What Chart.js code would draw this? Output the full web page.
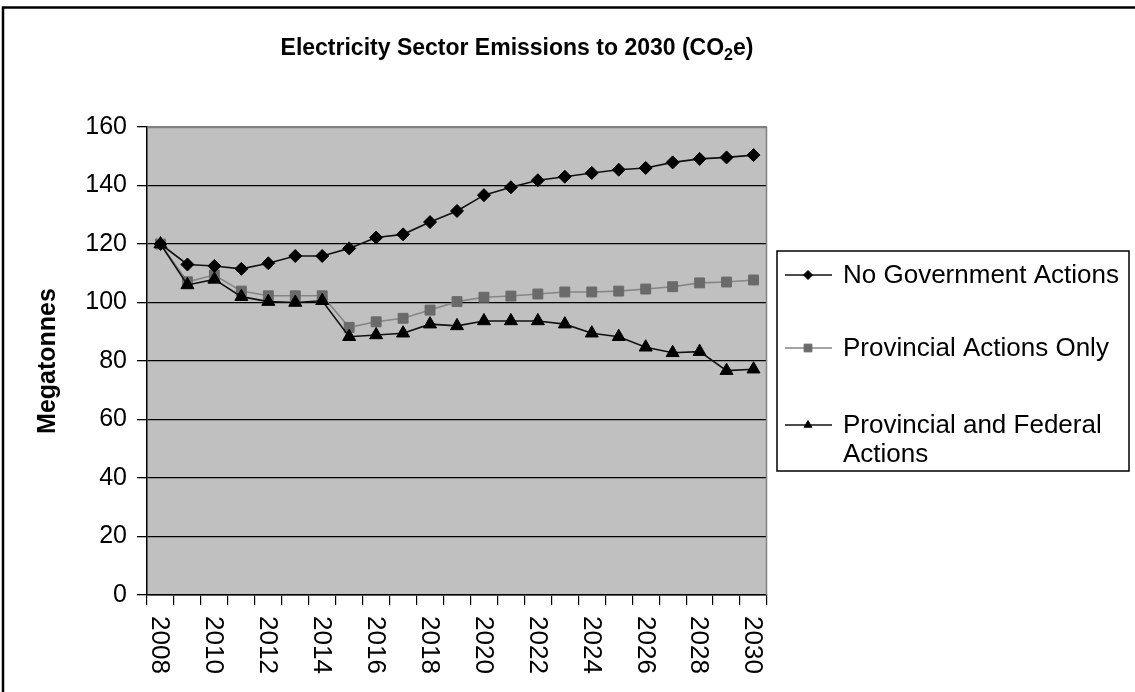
<!DOCTYPE html>
<html>
<head>
<meta charset="utf-8">
<script src="https://cdn.jsdelivr.net/npm/chart.js@4.4.1/dist/chart.umd.min.js"></script>
<style>
html,body{margin:0;padding:0;background:#fff;}
#wrap{width:1135px;height:692px;position:relative;overflow:hidden;}
canvas{display:block;}
</style>
</head>
<body>
<div id="wrap"><canvas id="c" width="1135" height="692"></canvas></div>
<script>
const years = ['2008','2009','2010','2011','2012','2013','2014','2015','2016','2017','2018','2019','2020','2021','2022','2023','2024','2025','2026','2027','2028','2029','2030'];
const xTickLabels = ['2008','2010','2012','2014','2016','2018','2020','2022','2024','2026','2028','2030'];
const noGov = [120, 113, 112.5, 111.5, 113.4, 115.9, 115.9, 118.5, 122.2, 123.3, 127.5, 131.3, 136.7, 139.4, 141.8, 143.0, 144.3, 145.4, 146.0, 147.9, 149.1, 149.6, 150.4];
const provOnly = [120, 107.1, 109.4, 103.9, 102.3, 102.3, 102.3, 91.5, 93.4, 94.6, 97.4, 100.3, 101.8, 102.2, 102.9, 103.6, 103.6, 103.9, 104.6, 105.4, 106.7, 107.0, 107.7];
const provFed = [120, 106.0, 107.9, 102.0, 100.3, 100.0, 100.6, 88.3, 88.9, 89.5, 92.6, 92.0, 93.7, 93.7, 93.7, 92.6, 89.5, 88.3, 84.7, 82.8, 83.2, 76.7, 77.2];
const seriesNames = ['No Government Actions', 'Provincial Actions Only', 'Provincial and Federal Actions'];
const titleMain = 'Electricity Sector Emissions to 2030 (CO';
const titleSub = '2';
const titleEnd = 'e)';
const yTitle = 'Megatonnes';

const FONT = '"Liberation Sans", Arial, Helvetica, sans-serif';

function drawMarker(ctx, style, x, y, r, fill, stroke) {
  if (Chart.helpers && Chart.helpers.drawPoint) {
    ctx.fillStyle = fill; ctx.strokeStyle = stroke; ctx.lineWidth = 1;
    Chart.helpers.drawPoint(ctx, {pointStyle: style, rotation: 0, radius: r, borderWidth: 1}, x, y);
  }
}

const decor = {
  id: 'decor',
  beforeDraw(chart) {
    const {ctx, chartArea: a} = chart;
    ctx.save();
    ctx.fillStyle = '#ffffff';
    ctx.fillRect(0, 0, chart.width, chart.height);
    ctx.fillStyle = '#c0c0c0';
    ctx.fillRect(a.left, a.top, a.right - a.left, a.bottom - a.top);
    ctx.strokeStyle = '#000';
    ctx.lineWidth = 2.5;
    ctx.beginPath();
    ctx.moveTo(3, chart.height);
    ctx.lineTo(3, 7.5);
    ctx.lineTo(chart.width, 7.5);
    ctx.stroke();
    ctx.restore();
  },
  beforeDatasetsDraw(chart) {
    const {ctx, chartArea: a} = chart;
    ctx.save();
    ctx.strokeStyle = '#808080';
    ctx.lineWidth = 1.5;
    ctx.beginPath();
    ctx.moveTo(a.left, a.top + 0.5);
    ctx.lineTo(a.right - 0.5, a.top + 0.5);
    ctx.lineTo(a.right - 0.5, a.bottom);
    ctx.stroke();
    ctx.restore();
  },
  afterDraw(chart) {
    const {ctx} = chart;
    const xs = chart.scales.x;
    ctx.save();
    const fMain = 'bold 23px ' + FONT;
    const fSub = 'bold 16px ' + FONT;
    ctx.font = fMain;
    const w1 = ctx.measureText(titleMain).width;
    const w3 = ctx.measureText(titleEnd).width;
    ctx.font = fSub;
    const w2 = ctx.measureText(titleSub).width;
    const total = w1 + w2 + w3;
    let tx = 517 - total / 2;
    const ty = 55;
    ctx.fillStyle = '#000';
    ctx.textBaseline = 'alphabetic';
    ctx.textAlign = 'left';
    ctx.font = fMain; ctx.fillText(titleMain, tx, ty); tx += w1;
    ctx.font = fSub; ctx.fillText(titleSub, tx, ty + 5); tx += w2;
    ctx.font = fMain; ctx.fillText(titleEnd, tx, ty);

    ctx.font = '26px ' + FONT;
    ctx.textAlign = 'left';
    ctx.textBaseline = 'middle';
    xTickLabels.forEach(lbl => {
      const idx = years.indexOf(lbl);
      const px = xs.getPixelForValue(idx);
      ctx.save();
      ctx.translate(px - 1, 616);
      ctx.rotate(Math.PI / 2);
      ctx.fillText(lbl, 0, 0);
      ctx.restore();
    });

    const box = {l: 777, t: 251, r: 1129, b: 471};
    ctx.fillStyle = '#fff';
    ctx.fillRect(box.l, box.t, box.r - box.l, box.b - box.t);
    ctx.strokeStyle = '#000';
    ctx.lineWidth = 1.5;
    ctx.strokeRect(box.l, box.t, box.r - box.l, box.b - box.t);
    ctx.font = '26px ' + FONT;
    const rows = [[275], [348], [425, 454]];
    const maxW = 282;
    chart.data.datasets.forEach((ds, i) => {
      const words = ds.label.split(' ');
      const lines = [];
      let cur = '';
      words.forEach(w => {
        const test = cur ? cur + ' ' + w : w;
        if (ctx.measureText(test).width > maxW && cur) { lines.push(cur); cur = w; } else { cur = test; }
      });
      if (cur) lines.push(cur);
      const y0 = rows[i][0];
      ctx.strokeStyle = ds.borderColor;
      ctx.lineWidth = 1.5;
      ctx.beginPath();
      ctx.moveTo(785, y0);
      ctx.lineTo(832, y0);
      ctx.stroke();
      drawMarker(ctx, ds.pointStyle, 808, y0, ds.pointStyle === 'rect' ? 5.5 : 4.5, ds.pointBackgroundColor, ds.pointBorderColor);
      ctx.fillStyle = '#000';
      ctx.textAlign = 'left';
      ctx.textBaseline = 'middle';
      lines.forEach((ln, k) => {
        const ly = rows[i][k] !== undefined ? rows[i][k] : y0 + k * 29;
        ctx.fillText(ln, 843, ly + 1);
      });
    });
    ctx.restore();
  }
};

new Chart(document.getElementById('c'), {
  type: 'line',
  data: {
    labels: years,
    datasets: [
      {label: seriesNames[0], data: noGov, borderColor: '#111', backgroundColor: '#000', pointBackgroundColor: '#000', pointBorderColor: '#000', borderWidth: 1.6, pointStyle: 'rectRot', pointRadius: 6.5, pointBorderWidth: 1, tension: 0, order: 1},
      {label: seriesNames[1], data: provOnly, borderColor: '#858585', backgroundColor: '#6a6a6a', pointBackgroundColor: '#6a6a6a', pointBorderColor: '#6a6a6a', borderWidth: 1.6, pointStyle: 'rect', pointRadius: 7, pointBorderWidth: 1, tension: 0, order: 3},
      {label: seriesNames[2], data: provFed, borderColor: '#111', backgroundColor: '#000', pointBackgroundColor: '#000', pointBorderColor: '#000', borderWidth: 1.6, pointStyle: 'triangle', pointRadius: 7.5, pointBorderWidth: 1, tension: 0, order: 2}
    ]
  },
  options: {
    responsive: false,
    animation: false,
    devicePixelRatio: 1,
    layout: {padding: {top: 127, right: 368, left: 0, bottom: 0}},
    plugins: {legend: {display: false}, title: {display: false}, tooltip: {enabled: false}},
    scales: {
      x: {
        type: 'category',
        offset: true,
        grid: {offset: true, drawOnChartArea: false, drawTicks: true, tickLength: 10, color: '#000', lineWidth: 1.2},
        border: {color: '#000', width: 1.5},
        ticks: {display: false},
        afterFit(s) { s.height = 97; }
      },
      y: {
        min: 0, max: 160,
        ticks: {stepSize: 20, color: '#000', font: {family: FONT, size: 25}, padding: 10},
        grid: {color: c => (c.tick && c.tick.value === 160) ? '#808080' : '#000', lineWidth: 1.3, tickLength: 10, tickColor: '#000', drawTicks: true},
        border: {color: '#000', width: 1.5},
        title: {display: true, text: yTitle, color: '#000', font: {family: FONT, size: 25, weight: 'bold'}, padding: {top: 33, bottom: 0}},
        afterFit(s) { s.width = 147; }
      }
    }
  },
  plugins: [decor]
});
</script>
</body>
</html>
